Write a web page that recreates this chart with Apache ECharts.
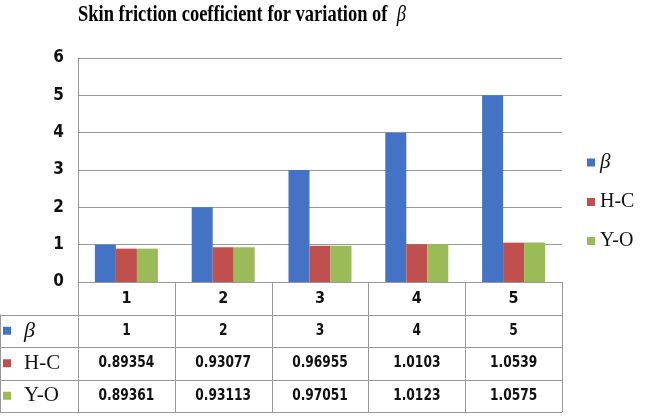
<!DOCTYPE html>
<html>
<head>
<meta charset="utf-8">
<script src="https://cdn.jsdelivr.net/npm/echarts@6/dist/echarts.min.js"></script>
<style>
  html, body { margin: 0; padding: 0; background: #fff; }
  #chart { width: 645px; height: 416px; }
</style>
</head>
<body>
<div id="chart"></div>
<script>
// data
const categories = ['1', '2', '3', '4', '5'];
const seriesNames = ['β', 'H-C', 'Y-O'];
const betaValues = [1, 2, 3, 4, 5];
const hcValues = [0.89354, 0.93077, 0.96955, 1.0103, 1.0539];
const yoValues = [0.89361, 0.93113, 0.97051, 1.0123, 1.0575];
const colors = ['#4472C4', '#C0504D', '#9BBB59'];

const allValues = [betaValues, hcValues, yoValues];

const GRID = { left: 78, right: 83, top: 58, bottom: 134 };
const ROW_H = 32.5;
const lineColor = '#999';
const numFont = '"DejaVu Sans Condensed", "DejaVu Sans", sans-serif';

const myChart = echarts.init(document.getElementById('chart'));

const option = {
  animation: false,
  backgroundColor: '#fff',
  legend: {
    orient: 'vertical',
    left: 582,
    top: 147,
    icon: 'rect',
    itemWidth: 8,
    itemHeight: 8,
    itemGap: 19,
    data: seriesNames,
    formatter: name => name === 'β' ? '{i|β}' : name,
    textStyle: {
      fontFamily: 'Liberation Serif',
      fontSize: 20,
      color: '#111',
      rich: { i: { fontStyle: 'italic', fontSize: 21, fontFamily: 'Liberation Serif' } }
    }
  },
  grid: GRID,
  xAxis: {
    type: 'category',
    data: categories,
    axisLine: { lineStyle: { color: lineColor } },
    axisTick: { show: false },
    axisLabel: { margin: 9, fontSize: 16, fontWeight: 'bold', color: '#111', fontFamily: numFont }
  },
  yAxis: {
    type: 'value',
    min: 0,
    max: 6,
    interval: 1,
    axisLine: { show: true, lineStyle: { color: lineColor } },
    axisTick: { show: false },
    splitLine: { lineStyle: { color: lineColor } },
    axisLabel: { margin: 14, fontSize: 17, fontWeight: 'bold', color: '#111', fontFamily: numFont }
  },
  series: seriesNames.map((name, i) => ({
    name: name,
    type: 'bar',
    data: allValues[i],
    barWidth: 21,
    barGap: '0%',
    itemStyle: { color: colors[i] }
  }))
};

myChart.setOption(option);

// title + data table under the plot
function buildTable() {
  const W = 645, H = 416;
  const x0 = GRID.left, x1 = W - GRID.right;
  const y0 = H - GRID.bottom;
  const colW = (x1 - x0) / categories.length;
  const els = [];

  // condensed bold serif title
  els.push({
    type: 'text', x: 78, y: 3, scaleX: 0.77, originX: 0, originY: 0,
    style: {
      text: '{b|Skin friction coefficient for variation of }{i|β}',
      rich: {
        b: { font: 'bold 24px "Liberation Serif", serif', fill: '#000' },
        i: { font: 'italic 24px "Liberation Serif", serif', fill: '#000', padding: [0, 0, 0, 6] }
      }
    }
  });

  const line = (ax, ay, bx, by) => els.push({
    type: 'line', shape: { x1: ax, y1: ay, x2: bx, y2: by },
    style: { stroke: lineColor, lineWidth: 1 }
  });
  // verticals
  for (let c = 0; c <= categories.length; c++) {
    const x = Math.round(x0 + c * colW) + 0.5;
    line(x, y0, x, y0 + ROW_H * 4);
  }
  line(0.5, y0 + ROW_H, 0.5, y0 + ROW_H * 4);
  // horizontals
  for (let r = 1; r <= 4; r++) {
    const y = Math.round(y0 + r * ROW_H) + 0.5;
    line(0, y, x1, y);
  }
  // rows
  seriesNames.forEach((name, r) => {
    const cy = y0 + ROW_H * (r + 1.5);
    els.push({ type: 'rect', shape: { x: 3, y: cy - 4, width: 8, height: 8 }, style: { fill: colors[r] } });
    els.push({
      type: 'text', x: 24, y: cy,
      style: {
        text: name, fill: '#111', verticalAlign: 'middle',
        font: (r === 0 ? 'italic 22px' : '21px') + ' "Liberation Serif", serif'
      }
    });
    allValues[r].forEach((v, c) => {
      const cx = myChart.convertToPixel({ xAxisIndex: 0 }, categories[c]);
      els.push({
        type: 'text', x: cx, y: cy, scaleX: 0.85, originX: 0, originY: 0,
        style: {
          text: String(v), fill: '#111', align: 'center', verticalAlign: 'middle',
          font: 'bold 16px ' + numFont
        }
      });
    });
  });
  myChart.setOption({ graphic: els });
}
buildTable();
</script>
</body>
</html>
